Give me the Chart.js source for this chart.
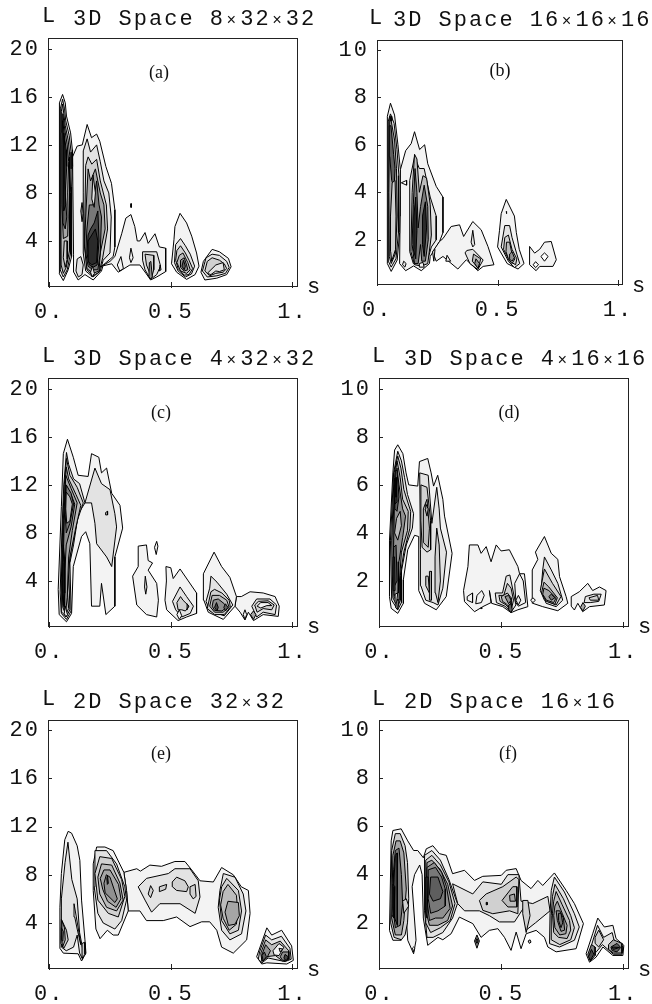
<!DOCTYPE html>
<html>
<head>
<meta charset="utf-8">
<title>Contours</title>
<script src="https://cdn.jsdelivr.net/npm/chart.js@4"></script>
<style>
html,body{margin:0;padding:0;background:#fff}
#page{position:relative;width:652px;height:1004px;overflow:hidden;background:#fff}
canvas{position:absolute}
.t{position:absolute;font-family:"Liberation Mono",monospace;font-size:22px;letter-spacing:2px;color:#111;white-space:pre;line-height:22px}
.t .x{font-size:16px;letter-spacing:4.1px;margin-left:1.5px}
.tag{position:absolute;font-family:"Liberation Serif",serif;font-size:18px;color:#111;line-height:20px;transform:translateX(-50%)}
</style>
</head>
<body>
<div id="page"></div>
<script>
// axis ticks and labels
const sTicks = [0, 0.5, 1];
const sLabels = ['0.', '0.5', '1.'];
const lTicksWide = [4, 8, 12, 16, 20];
const lTicksNarrow = [2, 4, 6, 8, 10];
const panelTitles = ['3D Space 8×32×32', '3D Space 16×16×16', '3D Space 4×32×32', '3D Space 4×16×16', '2D Space 32×32', '2D Space 16×16'];
const panelTags = ['(a)', '(b)', '(c)', '(d)', '(e)', '(f)'];

// contours: [level, [s,L, s,L, ...]], back to front
const contoursA = [
  [1, [.10,2.9, .096,11, .115,11.9, .136,12, .156,13.7, .174,12.6, .195,12.9, .208,12.3, .233,10.2, .256,8.8, .27,6.6, .27,3.5, .263,2.7, .222,2, .215,1.5, .181,.75, .147,1.2, .119,.75, .101,1.4]],
  [1, [.215,1.9, .25,2.3, .27,2.7, .298,4.6, .315,5.9, .336,6.2, .352,5.2, .362,4, .373,4, .394,4.7, .407,3.8, .435,4.6, .453,3.5, .479,3.4, .479,1.45, .442,1, .417,.75, .398,1.3, .373,2, .332,2, .284,1.4, .257,2.1]],
  [1, [.295,2.7, .305,1.7, .29,1.5, .28,2]],
  [1, [.336,3.4, .345,2.6, .336,2.2, .33,2.6]],
  [9, [.335,7.1, .338,7.1, .338,6.8, .335,6.8]],
  [2, [.384,3.1, .442,3.1, .458,1.9, .442,1.2, .417,.8, .394,1.6, .384,2.4]],
  [3, [.394,2.9, .43,2.8, .43,1.6, .42,.9, .41,1.5, .40,2]],
  [6, [.412,2.2, .418,2.3, .424,1, .418,.85, .41,1]],
  [6, [.456,2, .46,1.6, .452,1.5]],
  [2, [.14,8, .14,11.5, .156,12.5, .17,11.4, .195,12, .21,10.6, .225,9, .245,8, .255,6, .25,3, .222,2.4, .21,1.5, .18,1, .15,1.5, .14,3]],
  [3, [.145,4, .15,10.3, .16,11, .175,10.4, .195,10.8, .21,9, .235,7, .24,5, .22,2.6, .205,1.4, .18,1.1, .155,1.6]],
  [5, [.145,3.5, .15,6, .16,10, .17,9, .19,10, .21,8, .225,7, .23,5, .21,3, .205,1.5, .18,1.3, .155,1.7]],
  [7, [.15,3, .155,5, .165,7, .18,7, .195,9, .205,7, .215,6, .21,3, .2,1.6, .18,1.6, .16,1.9]],
  [9, [.155,3, .16,4.5, .17,5, .185,5.5, .2,6.5, .205,4, .197,2, .18,1.8, .165,2]],
  [10, [.16,4, .175,4.5, .19,5, .2,4, .195,2.2, .175,2, .16,2.3]],
  [2, [.18,9.5, .19,8, .185,6.8, .175,7.5]],
  [2, [.178,1.9, .186,1.3, .176,1, .17,1.4]],
  [6, [.13,6.5, .135,7.2, .14,6.3, .135,5.6]],
  [2, [.11,1.5, .115,2.5, .13,2.7, .14,2, .135,1.2, .12,1]],
  [1, [.055,16.2, .066,15.5, .071,14.4, .088,13, .095,11.6, .096,10.2, .092,8.5, .092,4.6, .092,2.7, .078,1.6, .058,.7, .041,1.3, .041,6, .041,11.6, .044,15.5]],
  [2, [.055,15.8, .063,15, .068,14, .082,12.8, .09,11.4, .09,10, .087,8, .088,3, .074,1.6, .058,1, .045,1.6, .045,6, .045,12, .047,15]],
  [4, [.055,15.4, .06,14.6, .066,13.6, .078,12.4, .085,11, .083,8, .084,3.2, .07,1.8, .058,1.3, .049,2, .048,7, .049,13, .05,14.8]],
  [5, [.056,14.6, .063,13.4, .074,12, .08,10.6, .076,8, .078,6, .076,4.4, .058,4.2, .052,7, .052,12]],
  [8, [.056,14, .062,12.8, .07,11.6, .072,10.2, .066,8, .072,6, .066,5, .056,5.5, .056,9]],
  [10, [.06,13, .066,11.5, .064,9, .068,7, .06,6.5, .059,9]],
  [3, [.062,4, .074,4, .074,2.5, .066,1.8, .058,2.6]],
  [1, [.538,6.3, .565,5.5, .586,4.4, .606,3, .616,1.9, .6,1.2, .565,.8, .524,1.4, .503,2.1, .513,4.1, .517,5.2]],
  [2, [.52,3.7, .54,4.2, .56,3.6, .58,2.9, .598,1.9, .585,1.25, .56,1, .53,1.5, .515,2.2]],
  [3, [.525,3.2, .54,3.6, .56,3, .575,2.4, .59,1.7, .575,1.2, .555,1.15, .53,1.7, .52,2.4]],
  [4, [.535,2.8, .55,3, .57,2.2, .58,1.6, .565,1.3, .54,1.5, .525,2.2]],
  [6, [.54,2.4, .555,2.6, .565,2, .57,1.6, .555,1.5, .54,1.8]],
  [8, [.552,2.4, .56,1.9, .555,1.6, .546,1.9]],
  [1, [.634,2.3, .67,3.3, .70,3.1, .737,2.55, .748,1.85, .73,1.2, .689,.9, .64,.75, .624,1.4]],
  [2, [.645,2.6, .67,2.9, .70,2.8, .73,2.3, .74,1.8, .725,1.3, .69,1.1, .65,1, .63,1.5]],
  [3, [.65,2.3, .67,2.6, .70,2.4, .72,2.1, .73,1.7, .715,1.4, .685,1.3, .66,1.1, .64,1.5]],
  [2, [.65,1.3, .685,2, .715,2.2, .72,1.6, .70,1.45, .685,1.5, .665,1.2]]
];
const contoursB = [
  [1, [.096,4.95, .118,5.75, .141,6.05, .155,6.55, .176,5.8, .197,6, .21,5.2, .245,4.25, .273,3.8, .273,2.3, .259,1.93, .22,1.3, .217,1, .183,.7, .151,.9, .118,.7, .093,1, .095,3]],
  [1, [.23,1.5, .259,1.93, .273,2.05, .307,2.56, .342,2.63, .359,2.14, .397,2.77, .432,2.42, .46,1.72, .485,.95, .44,.88, .418,.7, .37,1.16, .335,.77, .273,1.3, .245,1.1]],
  [2, [.397,2.4, .405,1.8, .397,1.7, .39,1.9]],
  [1, [.29,1.35, .305,1.1, .285,1.1]],
  [2, [.372,1.55, .397,1.6, .44,1.15, .418,.75, .385,1, .365,1.45]],
  [4, [.40,1.4, .43,1.2, .42,.8, .395,1.1]],
  [6, [.41,1.2, .425,1, .418,.8, .405,1]],
  [2, [.135,4.5, .155,5.5, .175,5, .195,5, .22,3.8, .245,3, .245,2, .225,1.7, .205,1, .18,.9, .15,1, .135,1.5]],
  [4, [.145,4, .155,5.6, .165,5.4, .175,4, .19,4.7, .205,4.6, .22,3.5, .225,2.2, .21,1, .185,.9, .155,.95, .14,1.5]],
  [7, [.15,3.5, .157,5, .165,4, .17,2.5, .18,3.4, .195,4.3, .21,3.4, .212,2, .2,1.1, .185,1.1, .18,1.8, .17,1, .155,1, .145,1.8]],
  [10, [.152,3, .16,3.8, .165,2.4, .16,1.2, .15,1.6]],
  [10, [.188,3, .2,3.6, .205,2.5, .195,1.3, .188,1.8]],
  [2, [.11,1.1, .12,1, .115,.85, .105,.95]],
  [1, [.175,1, .19,1.05, .195,.85, .175,.85]],
  [1, [.23,1.5, .24,1.6, .235,1.1]],
  [1, [.055,7.75, .072,7.25, .086,6, .096,4.95, .093,2.3, .083,1.15, .058,.67, .042,1, .042,5, .042,7.2]],
  [2, [.055,7.3, .07,6.9, .082,5.8, .09,4.7, .088,2.3, .078,1.2, .058,.85, .046,1.1, .046,5, .046,7]],
  [5, [.052,7.2, .058,7, .072,6.2, .08,5, .083,3, .075,1.4, .058,1, .05,1.3, .048,4]],
  [8, [.05,6.8, .057,6.8, .068,5.6, .074,5, .07,4.2, .06,4.5, .052,5.5]],
  [3, [.062,4.4, .074,4.5, .078,3, .076,1.6, .06,1.1, .056,1.5, .055,3]],
  [1, [.055,7.2, .06,7.2, .06,7, .055,7]],
  [0, [.1,4.4, .122,4.5, .122,4.3]],
  [1, [.536,3.7, .57,3, .578,2.3, .59,1.6, .61,1, .585,.77, .54,1, .5,1.7, .508,2.4, .515,3.1]],
  [2, [.53,2.6, .55,2.6, .56,2.1, .58,1.4, .592,1, .57,.83, .545,1.1, .515,1.7]],
  [3, [.53,2.1, .545,2.2, .56,1.6, .58,1.2, .575,.95, .55,1.1, .525,1.6]],
  [4, [.537,1.9, .55,1.9, .56,1.4, .572,1.2, .56,1, .545,1.2, .535,1.5]],
  [6, [.55,1.4, .56,1.5, .57,1.25, .56,1.1, .548,1.2]],
  [1, [.633,1.72, .654,1.44, .675,1.6, .695,1.9, .723,1.93, .744,1.16, .73,.88, .675,.88, .66,.7, .633,.95]],
  [0, [.68,1.3, .695,1.45, .71,1.3, .695,1.1]],
  [0, [.648,.95, .658,1.08, .67,.95, .658,.83]],
  [9, [.536,3.2, .539,3.2, .539,3.1, .536,3.1]]
];
const contoursC = [
  [1, [.075,15.8, .099,14.3, .119,12.8, .16,12.7, .174,14.6, .204,14.3, .215,13, .236,13.4, .257,11.3, .291,10.3, .302,8.4, .27,6, .27,1.9, .233,1.2, .215,3.8, .208,1.9, .174,1.9, .167,7.1, .15,8.1, .133,7.7, .099,5.2, .092,1.3, .071,.6, .041,1.2, .037,3.3, .05,10.2, .058,14.6]],
  [2, [.147,10.5, .188,13.4, .215,12.1, .25,11.6, .27,9.6, .277,8.5, .257,5.2, .236,6, .195,7.1, .188,8.8, .174,10.5]],
  [2, [.071,14.7, .08,13.7, .1,12.5, .125,12.1, .147,10.5, .12,9.6, .1,7, .085,5.5, .09,1.5, .071,.8, .05,1.3, .045,3, .052,8, .06,12]],
  [3, [.071,14.2, .085,12.8, .115,11.8, .14,10.5, .115,9, .09,6.5, .08,5, .085,1.6, .07,1, .052,1.4, .05,4, .056,9, .062,12]],
  [4, [.07,13.5, .08,12.5, .11,11.2, .13,10.3, .11,8.5, .085,6, .075,3, .08,1.7, .068,1.2, .056,1.8, .052,4, .058,9]],
  [5, [.068,12.8, .09,11.7, .115,10.5, .095,8.2, .08,6, .074,2.6, .067,1.3, .058,2, .055,4, .06,9]],
  [6, [.068,12, .09,11.2, .105,10.4, .09,8.5, .07,7, .065,5, .064,1.8, .058,3, .058,6, .062,9]],
  [7, [.07,12, .09,11.3, .1,10.4, .085,8.8, .07,8, .066,9.5]],
  [4, [.07,11.4, .085,11, .095,10.4, .085,9, .072,8.8, .068,10]],
  [8, [.058,7, .063,6, .064,3, .06,2, .056,3.5]],
  [9, [.056,6.5, .061,5.5, .062,3, .059,2.2, .056,3.5]],
  [1, [.066,1.9, .075,1.2, .068,1, .062,1.3]],
  [4, [.232,9.7, .24,9.8, .24,9.5, .232,9.5]],
  [1, [.366,6.9, .4,7, .407,5.7, .425,5.5, .407,4.9, .442,3.8, .449,2.4, .442,1, .4,1.2, .36,2, .343,4.4, .366,5.2]],
  [2, [.395,4.4, .402,3.5, .397,2.9, .392,3.5]],
  [1, [.442,7.3, .447,6.9, .44,6.2, .433,6.8]],
  [1, [.48,5.2, .5,5.1, .51,4.2, .538,5, .572,4, .606,3, .606,1.3, .565,1, .53,.7, .483,1.6, .476,2.4, .482,4]],
  [2, [.507,2.3, .538,3.5, .565,2.7, .593,1.9, .58,1.3, .545,1, .52,1.6]],
  [3, [.525,2.2, .54,2.7, .55,2.4, .575,1.9, .56,1.5, .545,1.6, .53,1.6]],
  [1, [.535,1.6, .545,1.1, .535,.8, .525,1.2]],
  [5, [.567,2.1, .573,1.9, .567,1.6]],
  [1, [.77,2.7, .79,2.7, .826,3.1, .88,3, .929,2.7, .946,1.9, .942,1.05, .88,1.2, .84,.7, .819,1.4, .805,.75, .785,1.4, .764,1.9]],
  [2, [.833,1.9, .853,2.5, .908,2.5, .935,2, .929,1.2, .88,1.4, .853,1]],
  [3, [.845,2, .86,2.3, .9,2.35, .925,2, .915,1.6, .88,1.7, .855,1.4]],
  [1, [.855,1.9, .87,2.2, .9,2.2, .915,1.95, .895,1.95, .87,1.75]],
  [5, [.84,1.5, .85,1.2, .84,.8, .828,1.2]],
  [1, [.805,1.6, .812,1.2, .805,.8, .798,1.2]],
  [1, [.634,4.6, .678,6.4, .709,5.2, .743,4.3, .77,2.7, .764,1.9, .716,.8, .654,1.4, .636,2.4]],
  [2, [.66,3.4, .665,4.4, .69,3.9, .73,2.9, .755,2, .72,1.1, .66,1.5, .645,2.3]],
  [3, [.665,3.1, .68,3.3, .71,3, .74,2.4, .745,1.8, .72,1.2, .68,1.2, .65,1.7]],
  [4, [.67,2.8, .7,2.8, .73,2.4, .74,1.8, .715,1.4, .68,1.4, .66,1.9]],
  [6, [.675,2.4, .695,2.5, .72,2.1, .73,1.8, .71,1.5, .68,1.55, .67,1.9]],
  [9, [.688,2.2, .695,1.8, .69,1.5, .68,1.8]],
  [8, [.725,2.1, .735,1.8, .725,1.5, .718,1.8]]
];
const contoursD = [
  [1, [.075,7.67, .096,7.3, .109,6.5, .12,6, .157,5.95, .164,6.97, .198,7.1, .212,6.5, .222,5.95, .239,6.4, .26,5.4, .267,4.7, .298,3.15, .274,1.35, .233,.8, .185,1.07, .161,1.6, .161,3.85, .144,3.9, .116,3.3, .098,2.05, .098,1.07, .075,.65, .048,.86, .041,1.35, .041,3.7, .055,6.5, .062,7.45]],
  [2, [.165,6.5, .2,6.4, .215,4.4, .235,5.9, .245,5, .25,4.2, .275,3.2, .26,1.7, .24,1, .22,1.1, .19,1.2, .17,1.8, .168,3.3]],
  [3, [.17,6, .195,5.9, .21,4.5, .21,3.3, .195,3.2, .175,3.4, .17,4.5]],
  [4, [.18,5, .195,5.4, .205,4.2, .2,3.4, .18,3.6]],
  [3, [.19,2.2, .2,2.2, .205,1.5, .19,1.8]],
  [3, [.235,4.2, .245,3.5, .25,2, .24,1.1, .23,1.5, .228,3]],
  [1, [.205,2.4, .213,2.4, .213,1.2, .205,1.2]],
  [4, [.19,5.2, .2,5, .195,4.7, .187,5]],
  [2, [.075,7.4, .09,7, .103,6.3, .115,5.6, .14,4.8, .135,4.2, .11,3.5, .09,2.4, .09,1.1, .075,.8, .05,1.2, .045,3.7, .058,6.5]],
  [3, [.075,7.2, .088,6.7, .1,5.8, .128,4.9, .125,4.2, .1,3.2, .085,2.2, .085,1.2, .075,.9, .055,1.3, .05,3.7, .06,6.5]],
  [4, [.072,7, .085,6.3, .095,5.4, .118,4.9, .115,4.1, .09,3.2, .082,2, .08,1.2, .06,1.3, .055,4, .062,6.3]],
  [6, [.072,6.7, .08,6, .095,5, .107,4.7, .095,3.8, .08,2.8, .077,1.5, .06,1.4, .058,3.5, .063,6]],
  [4, [.07,4.6, .085,4.9, .09,4.3, .075,3.7, .062,4]],
  [8, [.065,6.6, .072,6.6, .08,5.5, .072,4.9, .063,5]],
  [8, [.058,3.4, .068,3.5, .072,2, .062,1.8, .055,2.5]],
  [9, [.062,6, .07,6, .072,5.3, .064,5.2]],
  [10, [.066,6.3, .07,6.3, .07,5.5, .065,5.5]],
  [9, [.056,3, .062,3, .064,1.6, .058,1.6]],
  [7, [.07,1.2, .08,1.2, .074,.8, .066,.9]],
  [2, [.064,1.45, .075,1.5, .07,1.1, .066,1.1]],
  [1, [.369,3.5, .404,3.5, .417,3.15, .438,3.43, .458,2.8, .479,3.5, .499,3.25, .533,3.3, .568,2.6, .575,2.3, .595,2.3, .609,.93, .568,.8, .54,.68, .506,.93, .46,1.07, .451,1.6, .458,1.1, .424,.93, .39,.72, .349,1.14, .345,1.6, .363,2.6]],
  [1, [.36,1.35, .382,1.5, .382,1.1, .36,1.2]],
  [1, [.4,1.4, .42,1.6, .43,1.4, .418,1.1, .395,1.05]],
  [8, [.418,.9, .42,.85, .415,.85]],
  [1, [.555,1.9, .575,2.3, .59,2, .6,1.1, .57,.95, .56,1.1]],
  [2, [.57,1.4, .58,1.2, .57,1, .56,1.2]],
  [2, [.475,1.5, .505,1.5, .52,2.2, .535,2.25, .55,1.5, .56,1, .54,.7, .515,.95, .48,1.1]],
  [3, [.49,1.4, .51,1.4, .525,1.9, .54,1.7, .55,1.2, .54,.75, .52,1, .495,1.15]],
  [4, [.5,1.35, .525,1.5, .54,1.3, .54,.85, .52,1.05, .505,1.15]],
  [6, [.515,1.35, .53,1.4, .54,1.2, .53,1.05]],
  [8, [.53,1, .54,1.05, .545,.8, .54,.68, .53,.8]],
  [1, [.64,3.2, .677,3.85, .705,3.15, .732,2.9, .739,2.18, .766,1.35, .773,1.07, .732,.76, .67,.93, .629,1.07, .627,2.46, .65,2.9]],
  [2, [.677,3, .705,2.46, .732,1.9, .752,1.2, .725,.93, .684,1.07, .663,1.6, .67,2.46]],
  [3, [.677,2.5, .71,1.9, .745,1.35, .725,1, .677,1.2, .66,1.6]],
  [4, [.675,1.95, .695,1.75, .73,1.3, .72,1.03, .685,1.15, .665,1.5]],
  [5, [.675,1.7, .695,1.6, .725,1.3, .715,1.1, .685,1.2, .67,1.45]],
  [7, [.695,1.35, .705,1.45, .72,1.3, .705,1.2]],
  [1, [.63,1.3, .64,1.2, .63,1.1, .62,1.2]],
  [1, [.787,1.35, .82,1.55, .855,1.9, .875,1.6, .903,1.75, .93,1.6, .923,1, .862,.93, .834,.72, .814,1.07, .8,.79, .787,.95]],
  [2, [.845,1.35, .88,1.45, .91,1.45, .9,1.15, .865,1.1, .84,1.1]],
  [3, [.86,1.3, .895,1.4, .9,1.2, .865,1.2]],
  [5, [.835,1.1, .845,.95, .835,.75, .825,.9]]
];
const contoursE = [
  [1, [.078,11.6, .092,11.45, .115,10.4, .126,9.2, .133,5.9, .147,2.6, .151,1.5, .133,.85, .119,1.45, .058,1.5, .044,1.9, .044,5.3, .05,8.1, .064,10.9]],
  [2, [.077,10.7, .093,7.6, .115,6, .125,3.2, .14,1.6, .137,1, .125,1.5, .115,3, .1,2, .07,1.7, .05,2, .05,6, .065,9]],
  [1, [.102,5.6, .12,3.5, .13,2.2, .115,3.5, .105,4.5]],
  [3, [.05,4.3, .071,3.4, .078,2.6, .06,1.9, .048,2.3]],
  [5, [.052,4.2, .063,3.6, .066,2.6, .055,2, .05,2.9]],
  [8, [.05,3.6, .058,3.3, .056,2.5, .05,2.6]],
  [3, [.135,2.3, .145,2.4, .147,1.4, .135,1.1]],
  [1, [.307,8.2, .36,8.5, .375,8.3, .414,8.8, .462,8.7, .517,9.1, .558,9.1, .586,8.4, .62,7.5, .675,7.4, .709,8.6, .757,8, .79,7, .819,6.7, .826,4.8, .812,2.6, .757,1.5, .709,2, .689,3.4, .66,4.1, .627,4.1, .579,3.7, .524,4.5, .469,4.2, .4,4.2, .373,5, .325,5, .318,6.7]],
  [1, [.195,10.3, .229,10.3, .263,10, .307,8.2, .318,6.7, .325,5, .284,3, .263,3, .239,3.4, .209,2.7, .192,3.5, .181,6.7, .181,8.9]],
  [2, [.188,10, .236,10, .277,8.9, .311,7, .318,5.9, .298,4.2, .27,3.5, .222,4, .2,4.8, .185,7]],
  [3, [.208,9.5, .257,9.35, .298,7.6, .311,6.2, .284,4.5, .243,4.8, .2,5.9, .188,8.1]],
  [4, [.215,8.9, .257,8.8, .291,7.3, .304,5.9, .277,5, .236,5.3, .208,6.4, .2,7.8]],
  [5, [.225,8.4, .25,8.4, .285,7.2, .295,6, .275,5.3, .24,5.8, .22,6.8, .21,7.7]],
  [6, [.235,8, .25,7.8, .265,6.9, .28,6, .27,5.7, .25,6.1, .23,6.5, .225,7.3]],
  [9, [.237,7.7, .24,7.9, .243,7.3, .239,7.2]],
  [2, [.366,7, .4,7.7, .49,8.1, .517,8.5, .579,8.5, .613,7.5, .62,6.15, .6,4.8, .538,5.6, .455,5.6, .421,4.9, .394,5.9]],
  [3, [.417,7.1, .428,6.7, .417,6.1, .407,6.4]],
  [3, [.453,7, .483,7.2, .479,6.8, .453,6.6]],
  [3, [.506,7.4, .524,7.8, .558,7.5, .572,7, .565,6.6, .524,6.7, .507,7]],
  [3, [.579,7, .6,7.2, .604,6.2, .592,6, .579,6.4]],
  [2, [.702,6.7, .716,8.1, .764,7.8, .798,6.4, .809,5, .791,3.1, .743,2.6, .709,3.4, .695,5.3]],
  [3, [.709,7, .73,7.7, .778,6.7, .791,5, .778,3.4, .743,3.1, .709,4.2, .7,5.9]],
  [4, [.715,6.6, .735,7.2, .77,6.3, .775,5, .77,3.9, .74,3.4, .715,4.4, .705,5.5]],
  [5, [.735,5.8, .778,5.7, .782,4.6, .764,3.9, .737,3.8, .723,4.9]],
  [1, [.853,1.2, .895,3.6, .915,3, .956,3.4, .997,2.1, 1.004,.9, .977,.6, .895,.7, .874,.6]],
  [2, [.865,1.6, .89,3, .915,2.6, .955,2.9, .99,1.9, .995,1, .97,.8, .9,1.1, .875,.7, .86,1]],
  [4, [.87,1.5, .89,2.6, .915,2.2, .95,2.5, .985,1.7, .985,1, .96,.85, .93,1.3, .89,1.2, .875,.8]],
  [6, [.875,1.4, .89,2.2, .91,1.7, .895,1.1, .875,.85]],
  [6, [.96,1.6, .985,1.6, .985,1, .96,.9, .95,1.2]],
  [8, [.875,1.3, .885,1.6, .893,1.2, .88,.85]],
  [9, [.97,1.4, .983,1.2, .975,.85, .965,1.1]],
  [1, [.92,1.7, .945,2.3, .965,2, .945,1.3, .925,1.35]],
  [3, [.945,1.9, .96,1.85, .95,1.6]]
];
const contoursF = [
  [1, [.055,5.83, .089,5.9, .116,5.4, .14,5, .157,5, .18,4.7, .192,5.07, .219,5.2, .246,4.87, .274,4.8, .3,4.04, .349,4.18, .39,3.76, .424,3.93, .5,3.97, .52,4.18, .561,4.25, .581,3.76, .622,3.42, .65,3.76, .67,3.55, .718,4.07, .766,3.35, .8,2.8, .837,1.97, .807,.93, .725,.8, .691,1, .677,1.4, .643,1.69, .602,1.55, .581,.93, .561,1.62, .54,.86, .513,1.4, .486,1.76, .451,1.69, .417,1.4, .383,1.97, .328,2.24, .294,1.55, .26,1.3, .24,1.4, .198,1.07, .18,2.2, .175,4, .165,4.4, .144,4, .134,3.5, .15,1.28, .14,.72, .116,1.28, .109,2.38, .089,1.28, .055,1.28, .041,1.69, .048,5.4]],
  [1, [.14,1, .145,.95, .14,.8, .135,.95]],
  [2, [.3,3.62, .383,3.2, .424,3.7, .5,3.6, .527,4, .572,4, .581,2.9, .629,2.8, .691,3.1, .70,2.5, .64,2, .602,1.7, .59,2.6, .554,2.04, .492,2.04, .451,2.3, .41,2.5, .349,2.5, .321,2.8]],
  [3, [.41,2.93, .438,3.2, .506,3.5, .561,3.9, .572,3.8, .568,2.38, .534,2.5, .465,2.38, .424,2.52]],
  [4, [.503,2.93, .547,3.5, .564,3.5, .564,2.66, .527,2.66]],
  [5, [.534,3.14, .554,3.2, .558,2.9, .536,2.9]],
  [3, [.588,2.93, .609,2.93, .618,2.3, .602,1.6, .588,2.38]],
  [6, [.4,1.5, .41,1.25, .4,.95, .39,1.25]],
  [9, [.4,1.35, .405,1.25, .4,1.15, .395,1.25]],
  [3, [.61,1.25, .618,1.3, .622,1.2, .615,1.15]],
  [9, [.438,2.85, .442,2.85, .442,2.75, .438,2.75]],
  [3, [.065,5.7, .085,5.7, .105,5.2, .115,4.5, .12,3, .115,2, .105,1.5, .09,1.3, .06,1.4, .046,2, .05,5]],
  [5, [.068,5.4, .085,5.4, .1,4.9, .11,3.4, .1,2.1, .09,1.5, .065,1.5, .05,2.2, .055,4.8]],
  [7, [.065,5, .08,5.1, .09,4, .095,2.8, .085,1.9, .065,1.8, .055,2.6, .058,4.2]],
  [9, [.065,4.8, .072,4.9, .075,3, .072,1.9, .062,2.2, .058,3.5]],
  [10, [.055,3.6, .063,3.5, .06,2.2, .052,2.3]],
  [3, [.095,2.9, .11,3, .12,2.7, .1,2.4]],
  [2, [.185,4.8, .215,5, .25,4.6, .285,3.8, .32,2.8, .3,2.2, .26,1.6, .22,1.4, .195,1.4, .185,2.5]],
  [3, [.19,4.6, .215,4.8, .25,4.4, .285,3.7, .31,2.8, .29,2.1, .25,1.8, .21,1.6, .19,2]],
  [5, [.195,4.5, .215,4.6, .25,4.2, .28,3.6, .3,2.7, .28,2.1, .24,1.9, .205,1.9, .19,2.5]],
  [6, [.195,4.3, .225,4.5, .255,4.1, .275,3.5, .29,2.6, .26,2.2, .23,2.2, .205,2.1, .195,3]],
  [7, [.2,4.2, .23,4.3, .255,3.9, .27,3.4, .27,2.7, .24,2.5, .21,2.4, .2,3]],
  [8, [.21,3.9, .24,3.9, .26,3.3, .25,3, .22,2.9, .205,3.2]],
  [10, [.19,3.9, .2,3.9, .195,2.2, .188,2.5]],
  [2, [.705,3.35, .718,3.9, .759,3.28, .8,2.38, .82,1.83, .8,1.28, .739,1, .698,1.14, .7,2.38]],
  [3, [.71,3.1, .72,3.6, .755,3, .785,2.3, .8,1.8, .785,1.3, .74,1.1, .705,1.3, .705,2.3]],
  [4, [.715,2.9, .725,3.3, .75,2.75, .78,2.1, .785,1.7, .77,1.35, .735,1.4, .715,1.6, .71,2.4]],
  [5, [.72,2.7, .73,2.9, .75,2.4, .77,1.9, .765,1.55, .74,1.5, .72,1.8, .715,2.3]],
  [6, [.725,2.5, .74,2.5, .755,2.2, .76,1.7, .745,1.65, .73,2.1]],
  [7, [.735,2.4, .745,2.4, .752,2, .745,1.8, .735,2.1]],
  [1, [.848,.72, .875,1.55, .896,2.2, .923,1.83, .958,1.9, .971,1.35, 1.003,1.07, .999,.65, .958,.65, .917,1, .889,.58, .862,.37]],
  [2, [.868,1, .895,1.9, .92,1.4, .955,1.6, .965,1.2, 1,1, .995,.7, .96,.7, .915,1.1, .89,.8]],
  [3, [.885,1.4, .9,1.7, .92,1.3, .9,1, .885,1.15]],
  [7, [.855,.7, .87,1.1, .885,1, .885,.65, .865,.42]],
  [9, [.858,.6, .87,.9, .88,.7, .865,.45]],
  [5, [.94,1.1, .96,1.3, .995,1.15, .995,.75, .96,.75, .94,.9]],
  [8, [.95,1, .975,1.15, .99,.98, .975,.8, .955,.85]],
  [9, [.955,1, .985,.98, .96,.9]]
];

const allContours = [contoursA, contoursB, contoursC, contoursD, contoursE, contoursF];

// gray for each contour level
const shades = ['#ffffff', '#f3f3f3', '#e3e3e3', '#d0d0d0', '#bcbcbc', '#a6a6a6', '#909090', '#787878', '#5e5e5e', '#444444', '#2a2a2a'];

// page layout of each panel, frame edges in px and where its texts sit
const frames = [
  {l: 48, r: 297, t: 38, b: 286, sMin: -0.005, sMax: 1.019, lMin: 0.25, lMax: 20.9, lTicks: lTicksWide, lx: 42, ly: 6, tx: 73, ty: 9, sx: 307, sy: 277, gx: 159, gy: 62},
  {l: 377, r: 622, t: 40, b: 284, sMin: -0.001, sMax: 1.017, lMin: 0.14, lMax: 10.41, lTicks: lTicksNarrow, lx: 369, ly: 8, tx: 393, ty: 10, sx: 632, sy: 276, gx: 500, gy: 60},
  {l: 48, r: 297, t: 378, b: 626, sMin: -0.005, sMax: 1.019, lMin: 0.25, lMax: 20.9, lTicks: lTicksWide, lx: 42, ly: 346, tx: 73, ty: 349, sx: 307, sy: 617, gx: 161, gy: 402},
  {l: 379, r: 628, t: 378, b: 626, sMin: -0.002, sMax: 1.02, lMin: 0.125, lMax: 10.45, lTicks: lTicksNarrow, lx: 372, ly: 346, tx: 404, ty: 349, sx: 638, sy: 617, gx: 509, gy: 402},
  {l: 48, r: 297, t: 720, b: 968, sMin: -0.005, sMax: 1.019, lMin: 0.27, lMax: 20.83, lTicks: lTicksWide, lx: 42, ly: 689, tx: 73, ty: 692, sx: 307, sy: 960, gx: 161, gy: 743},
  {l: 379, r: 628, t: 720, b: 968, sMin: -0.002, sMax: 1.02, lMin: 0.13, lMax: 10.41, lTicks: lTicksNarrow, lx: 372, ly: 689, tx: 404, ty: 692, sx: 638, sy: 960, gx: 508, gy: 743}
];

const monoFont = {family: '"Liberation Mono", monospace', size: 22};
const tickLen = 4;

const framePlugin = {
  id: 'framePlugin',
  beforeDraw(chart) {
    chart.ctx.letterSpacing = '2px';
  },
  afterDraw(chart) {
    const a = chart.chartArea, ctx = chart.ctx;
    ctx.save();
    ctx.strokeStyle = '#222';
    ctx.lineWidth = 1;
    ctx.strokeRect(a.left + 0.5, a.top + 0.5, a.right - a.left, a.bottom - a.top);
    // inward tick marks, placed by the scales
    ctx.beginPath();
    chart.scales.x.ticks.forEach(function (t) {
      const px = Math.round(chart.scales.x.getPixelForValue(t.value)) + 0.5;
      ctx.moveTo(px, a.bottom + 2);
      ctx.lineTo(px, a.bottom - tickLen);
    });
    chart.scales.y.ticks.forEach(function (t) {
      const py = Math.round(chart.scales.y.getPixelForValue(t.value)) + 0.5;
      ctx.moveTo(a.left, py);
      ctx.lineTo(a.left + tickLen, py);
    });
    ctx.stroke();
    ctx.restore();
  }
};

function closedPoints(flat) {
  const pts = [];
  for (let i = 0; i < flat.length; i += 2) pts.push({x: flat[i], y: flat[i + 1]});
  pts.push({x: flat[0], y: flat[1]});
  return pts;
}

function addText(cls, x, y, html) {
  const d = document.createElement('div');
  d.className = cls;
  d.style.left = x + 'px';
  d.style.top = y + 'px';
  d.innerHTML = html;
  document.getElementById('page').appendChild(d);
}

const page = document.getElementById('page');
const padLeft = 48, padRight = 14, padTop = 14, padBottom = 40;

// the labels must not push the plot area in
function noScalePadding(axis) {
  axis.paddingLeft = 0;
  axis.paddingRight = 0;
  axis.paddingTop = 0;
  axis.paddingBottom = 0;
}

frames.forEach(function (f, i) {
  const canvas = document.createElement('canvas');
  const w = f.r - f.l + padLeft + padRight;
  const h = f.b - f.t + padTop + padBottom;
  canvas.style.left = (f.l - padLeft) + 'px';
  canvas.style.top = (f.t - padTop) + 'px';
  canvas.style.width = w + 'px';
  canvas.style.height = h + 'px';
  canvas.width = w;
  canvas.height = h;
  page.appendChild(canvas);

  // first dataset is drawn last, so flip the back-to-front list
  const datasets = allContours[i].slice().reverse().map(function (c) {
    return {
      data: closedPoints(c[1]),
      showLine: true,
      tension: 0,
      pointRadius: 0,
      borderColor: '#000',
      borderWidth: 1,
      backgroundColor: shades[c[0]],
      fill: 'shape'
    };
  });

  new Chart(canvas.getContext('2d'), {
    type: 'scatter',
    data: {datasets: datasets},
    plugins: [framePlugin],
    options: {
      responsive: false,
      animation: false,
      events: [],
      layout: {padding: {top: padTop, right: padRight, left: 0, bottom: 0}},
      plugins: {legend: {display: false}, tooltip: {enabled: false}},
      scales: {
        x: {
          type: 'linear',
          min: f.sMin,
          max: f.sMax,
          afterBuildTicks: function (axis) { axis.ticks = sTicks.map(function (v) { return {value: v}; }); },
          afterFit: function (axis) { axis.height = padBottom; noScalePadding(axis); },
          grid: {display: false, drawTicks: false},
          border: {display: false},
          ticks: {
            font: monoFont,
            color: '#111',
            padding: 13,
            autoSkip: false,
            maxRotation: 0,
            callback: function (v, idx) { return sLabels[idx]; }
          }
        },
        y: {
          type: 'linear',
          min: f.lMin,
          max: f.lMax,
          afterBuildTicks: function (axis) { axis.ticks = f.lTicks.map(function (v) { return {value: v}; }); },
          afterFit: function (axis) { axis.width = padLeft; noScalePadding(axis); },
          grid: {display: false, drawTicks: false},
          border: {display: false},
          ticks: {
            font: monoFont,
            color: '#111',
            padding: 8,
            autoSkip: false,
            callback: function (v) { return String(v); }
          }
        }
      }
    }
  });

  addText('t', f.lx, f.ly, 'L');
  addText('t', f.tx, f.ty, panelTitles[i].replace(/×/g, '<span class="x">×</span>'));
  addText('t', f.sx, f.sy, 's');
  addText('tag', f.gx, f.gy, panelTags[i]);
});
</script>
</body>
</html>
